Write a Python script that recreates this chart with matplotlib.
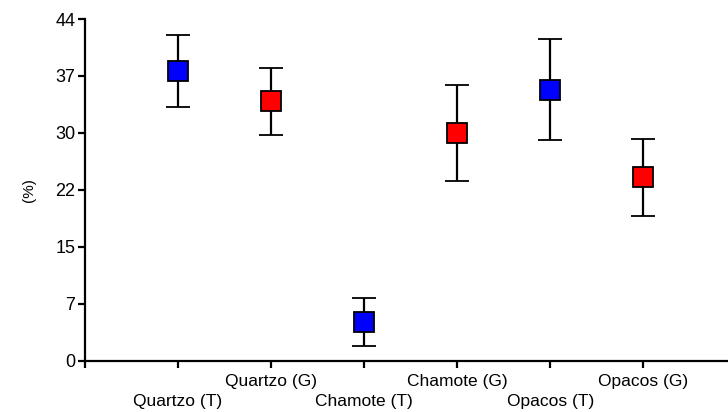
import numpy as np
import matplotlib
matplotlib.use("Agg")
import matplotlib.pyplot as plt

plt.rcParams['font.family'] = ['Liberation Sans', 'DejaVu Sans']

categories = ["Quartzo (T)", "Quartzo (G)", "Chamote (T)", "Chamote (G)", "Opacos (T)", "Opacos (G)"]
means = [37.3, 33.4, 5.0, 29.3, 34.9, 23.6]
errors = [4.6, 4.3, 3.1, 6.2, 6.5, 5.0]
colors = ["#0000ff", "#ff0000", "#0000ff", "#ff0000", "#0000ff", "#ff0000"]
ytick_vals = np.linspace(0, 44, 7)
ytick_labels = ["0", "7", "15", "22", "30", "37", "44"]

fig = plt.figure(figsize=(7.28, 4.12), dpi=100)
ax = fig.add_axes([85 / 728, 1 - 360.7 / 412, (728 - 85) / 728 + 0.01, 341.7 / 412])

xs = np.arange(1, len(categories) + 1)
for x, m, e, c in zip(xs, means, errors, colors):
    ax.errorbar(x, m, yerr=e, fmt='s', color='black', ecolor='black',
                elinewidth=1.6, capsize=8.3, capthick=1.6,
                markersize=15, markerfacecolor=c, markeredgecolor='black',
                markeredgewidth=1.3, zorder=3)

ax.set_xlim(0, 6.99)
ax.set_ylim(0, 44)
ax.set_xticks(np.arange(0, 7))
ax.set_xticklabels([])
ax.set_yticks(ytick_vals)
ax.set_yticklabels(ytick_labels, fontsize=13)

for side in ['top', 'right']:
    ax.spines[side].set_visible(False)
for side in ['left', 'bottom']:
    ax.spines[side].set_linewidth(1.6)
ax.tick_params(axis='both', direction='out', length=5, width=1.6, pad=2)

# staggered category labels, G upper row and T lower row
for i, (x, name) in enumerate(zip(xs, categories)):
    y_off = -0.062 if i % 2 == 1 else -0.12
    ax.text(x, y_off, name, transform=ax.get_xaxis_transform(), ha='center',
            va='center', fontsize=12.5)

ax.set_ylabel("(%)", fontsize=11)
ax.yaxis.set_label_coords(-0.075, 0.5)

fig.savefig("out.png", dpi=100)
